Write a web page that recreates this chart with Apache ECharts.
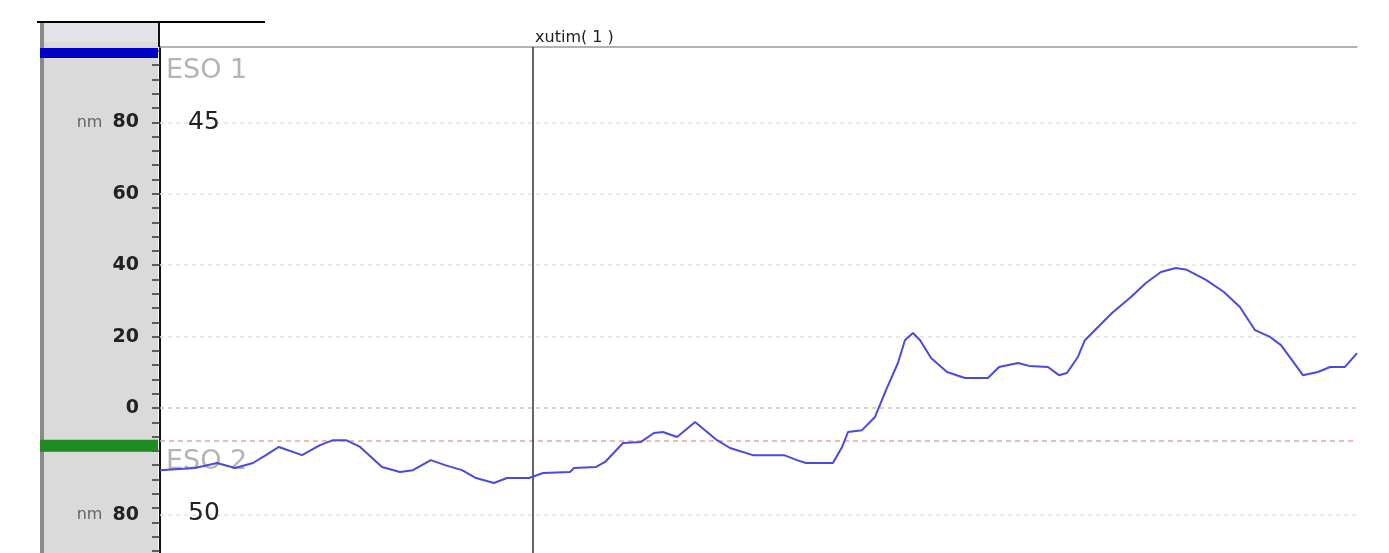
<!DOCTYPE html>
<html>
<head>
<meta charset="utf-8">
<script src="https://cdn.jsdelivr.net/npm/echarts@6/dist/echarts.min.js"></script>
<style>
html,body{margin:0;padding:0;background:#fff;}
#c{width:1389px;height:553px;}
</style>
</head>
<body>
<div id="c"></div>
<script>
// time (s) of each sample
var times = [0.00,1.75,2.86,3.76,4.66,5.31,5.96,7.12,8.02,8.67,9.32,10.03,11.13,12.03,12.68,13.58,14.29,15.14,15.84,16.74,17.39,18.50,19.20,20.55,20.75,21.86,22.31,23.21,24.11,24.76,25.21,25.92,26.82,27.92,28.57,29.72,31.28,31.93,32.38,33.73,34.19,34.49,35.19,35.84,36.39,36.99,37.34,37.74,38.10,38.65,39.45,40.35,41.50,42.06,43.01,43.56,44.51,45.06,45.46,46.01,46.36,47.72,48.67,49.42,50.17,50.92,51.47,52.43,53.33,54.13,54.89,55.64,56.19,56.74,57.29,58.04,58.65,59.40,60.00];
// signal values (nm)
var values = [-17.4,-16.8,-15.4,-16.8,-15.4,-13.2,-10.9,-13.2,-10.4,-9.0,-9.0,-10.9,-16.5,-17.9,-17.4,-14.6,-16.0,-17.4,-19.6,-21.0,-19.6,-19.6,-18.2,-17.9,-16.8,-16.5,-15.1,-9.8,-9.5,-7.0,-6.7,-8.1,-3.9,-9.0,-11.2,-13.2,-13.2,-14.6,-15.4,-15.4,-10.9,-6.7,-6.2,-2.5,5.0,12.6,19.0,21.0,19.0,14.0,10.1,8.4,8.4,11.5,12.6,11.8,11.5,9.2,9.8,14.3,19.0,26.6,31.1,35.0,38.1,39.2,38.7,35.9,32.5,28.3,21.8,19.9,17.6,13.4,9.2,10.1,11.5,11.5,15.4];
// y tick labels
var yLabelValues = [-30, 0, 20, 40, 60, 80];
var yLabelTexts = {'-30':'nm 80','0':'0','20':'20','40':'40','60':'60','80':'nm 80'};
var yMinorTicks = [];
for (var v = -40; v <= 100; v += 4) yMinorTicks.push(v);
var gridValues = [80, 60, 40, 20, -30];
var zeroLine = 0;
var thresholdLevel = -9.2;
var cursorTime = 18.7;
var channel1Level = 99.4;
var channel2Level = -10.6;
var title = 'xutim( 1 )';
var ch1Name = 'ESO 1', ch1Value = '45';
var ch2Name = 'ESO 2', ch2Value = '50';

var chart = echarts.init(document.getElementById('c'), null, {renderer:'canvas'});
var data = times.map(function(t,i){return [t, values[i]];});

var markData = gridValues.map(function(g){
  return {yAxis:g, lineStyle:{color:'#e2e2e2', type:[4,4], width:1.5}};
});
markData.push({yAxis:zeroLine, lineStyle:{color:'#c4c4c4', type:[4,4], width:1.5}});
markData.push({yAxis:thresholdLevel, lineStyle:{color:'#eea0a0', type:[5,4], width:1.5}});
markData.push({xAxis:cursorTime, lineStyle:{color:'#333', type:'solid', width:1.5}});

chart.setOption({
  animation:false,
  backgroundColor:'#fff',
  grid:{left:160, right:32, top:47, bottom:0, containLabel:false},
  xAxis:{type:'value', min:0, max:60, position:'top',
    axisLine:{show:true, onZero:false, lineStyle:{color:'#999', width:1.5}},
    axisTick:{show:false}, axisLabel:{show:false}, splitLine:{show:false}},
  yAxis:{type:'value', min:-40.6, max:101.1,
    axisLine:{show:true, onZero:false, lineStyle:{color:'#111', width:2}},
    axisTick:{show:true, customValues:yMinorTicks, length:8, lineStyle:{color:'#333', width:1.5}},
    axisLabel:{show:true, customValues:yLabelValues, margin:21,
      formatter:function(val){
        var s = yLabelTexts[String(Math.round(val))];
        if (s && s.indexOf('nm ')===0) return '{u|nm  }{b|' + s.slice(3) + '}';
        return '{b|' + (s||'') + '}';
      },
      rich:{u:{fontSize:16, color:'#666', fontFamily:'DejaVu Sans'},
            b:{fontSize:19, color:'#222', fontFamily:'DejaVu Sans', fontWeight:'bold'}}},
    splitLine:{show:false}},
  series:[{
    type:'line', data:data, symbol:'none', smooth:false,
    lineStyle:{color:'#4a4ade', width:2},
    z:5,
    markLine:{silent:true, symbol:['none','none'], label:{show:false}, data:markData, z:3}
  }]
});

var y1 = chart.convertToPixel({yAxisIndex:0}, channel1Level);
var y2 = chart.convertToPixel({yAxisIndex:0}, channel2Level);
var x0 = chart.convertToPixel({xAxisIndex:0}, cursorTime);

chart.setOption({
  graphic:[
    {type:'rect', z:-10, silent:true, shape:{x:40,y:22,width:118,height:531}, style:{fill:'#dadada'}},
    {type:'rect', z:-10, silent:true, shape:{x:44,y:22,width:114,height:20}, style:{fill:'#e2e2ea'}},
    {type:'rect', z:-9, silent:true, shape:{x:40,y:22,width:4,height:531}, style:{fill:'#8a8a8a'}},
    {type:'line', z:10, silent:true, shape:{x1:37,y1:22,x2:265,y2:22}, style:{stroke:'#000', lineWidth:2}},
    {type:'line', z:10, silent:true, shape:{x1:159,y1:22,x2:159,y2:47}, style:{stroke:'#111', lineWidth:2}},
    {type:'rect', z:10, silent:true, shape:{x:40,y:y1-5,width:118,height:10}, style:{fill:'#0000c8'}},
    {type:'rect', z:10, silent:true, shape:{x:40,y:y2-6,width:118,height:12}, style:{fill:'#1f8a1f'}},
    {type:'text', z:10, silent:true, x:x0+2, y:38, style:{text:title, fill:'#222', font:'16px "DejaVu Sans"', verticalAlign:'middle'}},
    {type:'text', z:4, silent:true, x:166, y:71, style:{text:ch1Name, fill:'#b4b4b4', font:'27px "DejaVu Sans"', verticalAlign:'middle'}},
    {type:'text', z:10, silent:true, x:188, y:122, style:{text:ch1Value, fill:'#222', font:'25px "DejaVu Sans"', verticalAlign:'middle'}},
    {type:'text', z:4, silent:true, x:166, y:462, style:{text:ch2Name, fill:'#b4b4b4', font:'27px "DejaVu Sans"', verticalAlign:'middle'}},
    {type:'text', z:10, silent:true, x:188, y:513, style:{text:ch2Value, fill:'#222', font:'25px "DejaVu Sans"', verticalAlign:'middle'}}
  ]
});
</script>
</body>
</html>
